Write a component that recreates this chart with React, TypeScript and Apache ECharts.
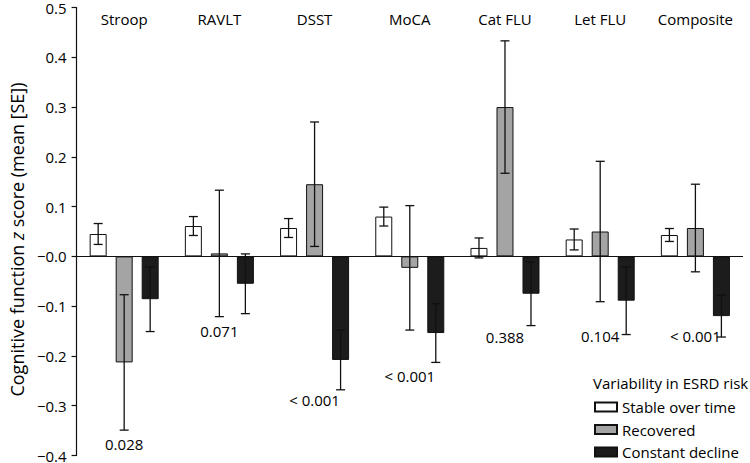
import React, { useEffect, useRef } from "react";
import * as echarts from "echarts";

const categories = ["Stroop", "RAVLT", "DSST", "MoCA", "Cat FLU", "Let FLU", "Composite"];
const seriesNames = ["Stable over time", "Recovered", "Constant decline"];
const stableMean = [0.045, 0.061, 0.057, 0.08, 0.017, 0.034, 0.043];
const stableSE = [0.021, 0.019, 0.019, 0.019, 0.02, 0.021, 0.013];
const recoveredMean = [-0.213, 0.006, 0.145, -0.023, 0.3, 0.05, 0.057];
const recoveredSE = [0.136, 0.127, 0.125, 0.125, 0.133, 0.141, 0.088];
const declineMean = [-0.086, -0.055, -0.208, -0.154, -0.075, -0.089, -0.12];
const declineSE = [0.065, 0.06, 0.06, 0.059, 0.064, 0.068, 0.042];
const pValues = ["0.028", "0.071", "< 0.001", "< 0.001", "0.388", "0.104", "< 0.001"];
const pLabelY = [-0.377, -0.15, -0.289, -0.24, -0.162, -0.16, -0.16];

const FONT = "Open Sans";
const FS = 15;
const TXT = "#000";
const colors = ["#ffffff", "#a4a4a4", "#1c1c1c"];
const BAR_W = 17;
const STEP = 26;

export default function App() {
  const ref = useRef<HTMLDivElement>(null);
  useEffect(() => {
    if (!ref.current) return;
    const chart = echarts.init(ref.current, null, { renderer: "svg" });
    const means = [stableMean, recoveredMean, declineMean];
    const ses = [stableSE, recoveredSE, declineSE];
    const errData: number[][] = [];
    means.forEach((m, g) => {
      m.forEach((v, i) => {
        errData.push([i, g, v - ses[g][i], v + ses[g][i]]);
      });
    });
    const pData = categories.map((_, i) => [i, pLabelY[i], i]);

    const barSeries = means.map((m, g) => ({
      type: "bar",
      name: seriesNames[g],
      data: m,
      barWidth: BAR_W,
      barGap: "53%",
      itemStyle: { color: colors[g], borderColor: "#111", borderWidth: 1 },
      z: 2,
      ...(g === 0
        ? {
            markLine: {
              silent: true,
              symbol: "none",
              label: { show: false },
              lineStyle: { color: "#111", width: 1.2, type: "solid" },
              data: [{ yAxis: 0 }],
            },
          }
        : {}),
    }));

    chart.setOption({
      animation: false,
      textStyle: { fontFamily: FONT },
      grid: { left: 67, right: 7, top: 7.5, bottom: 6.3, containLabel: false },
      legend: {
        orient: "vertical",
        left: 594,
        top: 399.5,
        padding: 0,
        itemWidth: 22,
        itemHeight: 9,
        itemGap: 7.5,
        data: seriesNames,
        icon: "rect",
        textStyle: { fontFamily: FONT, fontSize: FS, color: TXT, lineHeight: 15 },
      },
      graphic: [
        {
          type: "text",
          left: 593,
          top: 375.5,
          style: { text: "Variability in ESRD risk", font: `${FS}px "${FONT}"`, fill: TXT },
        },
      ],
      xAxis: {
        type: "category",
        data: categories,
        position: "top",
        axisLine: { show: false, onZero: false },
        axisTick: { show: false },
        axisLabel: { inside: true, margin: 4, fontSize: FS, color: TXT, fontFamily: FONT, interval: 0 },
        splitLine: { show: false },
      },
      yAxis: {
        type: "value",
        min: -0.4,
        max: 0.5,
        interval: 0.1,
        name: "Cognitive function {i|z} score (mean [SE])",
        nameLocation: "middle",
        nameGap: 41,
        nameRotate: 90,
        nameTextStyle: {
          fontSize: 18,
          color: TXT,
          fontFamily: FONT,
          padding: [0, 16, 0, 0],
          rich: { i: { fontStyle: "italic", fontSize: 18, color: TXT, fontFamily: FONT } },
        },
        axisLine: { show: true, onZero: false, lineStyle: { color: "#111", width: 1.2 } },
        axisTick: { show: true, length: 5, lineStyle: { color: "#111", width: 1.2 } },
        splitLine: { show: false },
        axisLabel: {
          margin: 10,
          fontSize: FS,
          color: TXT,
          fontFamily: FONT,
          formatter: (v: number) => {
            const r = Math.round(v * 10) / 10;
            return (r <= 0 ? "\u2212" : "") + Math.abs(r).toFixed(1);
          },
        },
      },
      series: [
        ...barSeries,
        {
          type: "custom",
          name: "err",
          data: errData,
          z: 5,
          silent: true,
          encode: { x: 0, y: [2, 3] },
          renderItem: (params: any, api: any) => {
            const i = api.value(0);
            const g = api.value(1);
            const lo = api.coord([i, api.value(2)]);
            const hi = api.coord([i, api.value(3)]);
            const x = lo[0] + (g - 1) * STEP;
            const cap = 4.5;
            const style = { stroke: "#111", lineWidth: 1.3, fill: null };
            return {
              type: "group",
              children: [
                { type: "line", shape: { x1: x, y1: lo[1], x2: x, y2: hi[1] }, style },
                { type: "line", shape: { x1: x - cap, y1: lo[1], x2: x + cap, y2: lo[1] }, style },
                { type: "line", shape: { x1: x - cap, y1: hi[1], x2: x + cap, y2: hi[1] }, style },
              ],
            };
          },
        },
        {
          type: "custom",
          name: "p",
          data: pData,
          z: 6,
          silent: true,
          encode: { x: 0, y: 1 },
          renderItem: (params: any, api: any) => {
            const i = api.value(0);
            const p = api.coord([i, api.value(1)]);
            return {
              type: "text",
              x: p[0],
              y: p[1],
              style: {
                text: pValues[api.value(2)],
                font: `${FS}px "${FONT}"`,
                fill: TXT,
                align: "center",
                verticalAlign: "middle",
              },
            };
          },
        },
      ],
    });
    return () => chart.dispose();
  }, []);
  return <div ref={ref} style={{ width: 750, height: 463, position: "absolute", left: 0, top: 0 }} />;
}
